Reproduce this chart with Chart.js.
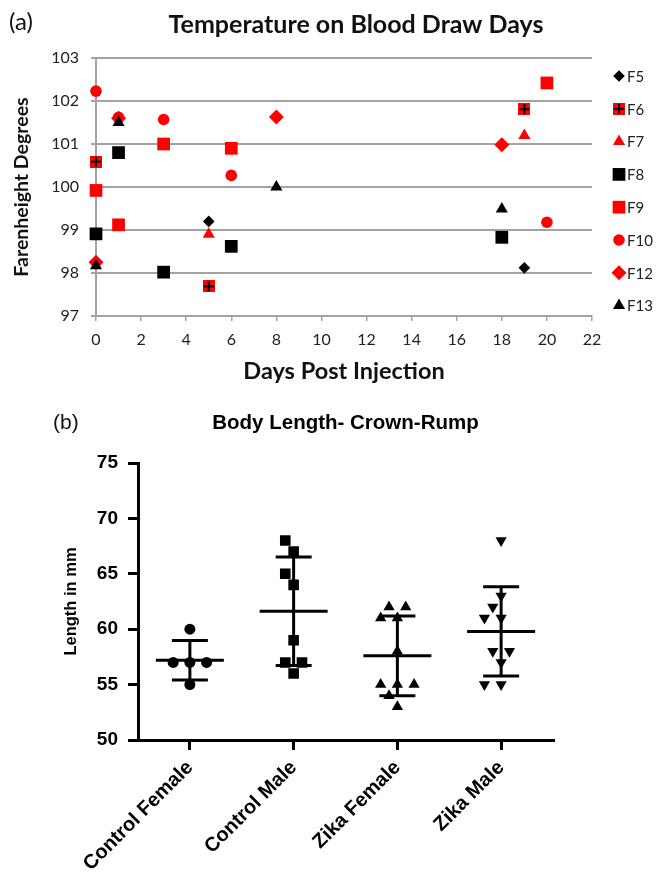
<!DOCTYPE html>
<html><head><meta charset="utf-8">
<script src="https://cdn.jsdelivr.net/npm/chart.js@4.4.1/dist/chart.umd.min.js"></script>
<style>
html,body{margin:0;padding:0;background:#fff;}
#wrapA{position:absolute;left:0;top:0;width:658px;height:395px;}
#wrapB{position:absolute;left:0;top:395px;width:658px;height:478px;}
</style></head><body>
<div id="wrapA"><canvas id="chartA" width="658" height="395"></canvas></div>
<div id="wrapB"><canvas id="chartB" width="658" height="478"></canvas></div>
<script>
// ---------- Panel (a): temperature data ----------
const seriesNames = ['F5','F6','F7','F8','F9','F10','F12','F13'];
const f5Days  = [5, 19];              const f5Temp  = [99.2, 98.12];
const f6Days  = [0, 5, 19];           const f6Temp  = [100.59, 97.69, 101.81];
const f7Days  = [5, 19];              const f7Temp  = [98.9, 101.2];
const f8Days  = [0, 1, 3, 6, 18];     const f8Temp  = [98.91, 100.8, 98.02, 98.62, 98.83];
const f9Days  = [0, 1, 3, 6, 20];     const f9Temp  = [99.92, 99.12, 101.0, 100.9, 102.42];
const f10Days = [0, 1, 3, 6, 20];     const f10Temp = [102.23, 101.62, 101.57, 100.27, 99.18];
const f12Days = [0, 1, 8, 18];        const f12Temp = [98.25, 101.6, 101.63, 100.98];
const f13Days = [0, 1, 8, 18];        const f13Temp = [98.17, 101.5, 100.0, 99.49];

// ---------- Panel (b): body length data ----------
const groups = ['Control Female','Control Male','Zika Female','Zika Male'];
const controlFemale = [60, 57, 57, 57, 55];
const controlMale   = [68, 67, 65, 64, 59, 57, 57, 56];
const zikaFemale    = [62, 62, 61, 61, 58, 55, 55, 55, 54, 53];
const zikaMale      = [68, 63, 62, 61, 61, 58, 58, 57, 55, 55];

// ---------- styles ----------
const RED = '#ff0000', BLACK = '#000000', GRID = '#a3a3a3';
function crossSquare(){
  const c = document.createElement('canvas'); c.width = 12; c.height = 12;
  const g = c.getContext('2d');
  g.fillStyle = RED; g.fillRect(0,0,12,12);
  g.fillStyle = BLACK; g.fillRect(5,1,2,10); g.fillRect(1,5,10,2);
  return c;
}
const crossImg = crossSquare();
const styleA = {
  F5:  {shape:'rectRot',  color:BLACK, r:5.8},
  F6:  {shape:crossImg,   color:RED,   r:6},
  F7:  {shape:'triangle', color:RED,   r:7},
  F8:  {shape:'rect',     color:BLACK, r:9},
  F9:  {shape:'rect',     color:RED,   r:9},
  F10: {shape:'circle',   color:RED,   r:5.8},
  F12: {shape:'rectRot',  color:RED,   r:7.5},
  F13: {shape:'triangle', color:BLACK, r:7}
};
const seriesDays = [f5Days,f6Days,f7Days,f8Days,f9Days,f10Days,f12Days,f13Days];
const seriesTemp = [f5Temp,f6Temp,f7Temp,f8Temp,f9Temp,f10Temp,f12Temp,f13Temp];

function drawMarker(ctx, st, x, y){
  ctx.save();
  ctx.fillStyle = st.color;
  const r = st.r;
  if (typeof st.shape === 'object'){
    ctx.drawImage(st.shape, x - st.shape.width/2, y - st.shape.height/2);
  } else {
    ctx.beginPath();
    if (st.shape === 'circle'){ ctx.arc(x,y,r,0,Math.PI*2); }
    else if (st.shape === 'rect'){ const s = r*Math.SQRT1_2; ctx.rect(x-s,y-s,2*s,2*s); }
    else if (st.shape === 'rectRot'){ ctx.moveTo(x,y-r); ctx.lineTo(x+r,y); ctx.lineTo(x,y+r); ctx.lineTo(x-r,y); ctx.closePath(); }
    else if (st.shape === 'triangle'){ ctx.moveTo(x,y-r); ctx.lineTo(x+r*0.866,y+r/2); ctx.lineTo(x-r*0.866,y+r/2); ctx.closePath(); }
    ctx.fill();
  }
  ctx.restore();
}

const panelA = {
  id:'panelA',
  afterDraw(chart){
    const ctx = chart.ctx;
    ctx.save();
    ctx.textBaseline = 'middle'; ctx.textAlign = 'left';
    ctx.fillStyle = '#111';
    ctx.font = '24px Lato';
    ctx.fillText('(a)', 9, 22);
    ctx.textAlign = 'center';
    ctx.font = 'bold 25px Lato';
    ctx.fillText('Temperature on Blood Draw Days', 356, 25);
    ctx.textAlign = 'left';
    ctx.font = '15px Lato';
    seriesNames.forEach((n,i)=>{
      const y = 76 + i*32.8;
      drawMarker(ctx, styleA[n], 619, y);
      ctx.fillStyle = '#222';
      ctx.fillText(n, 627, y+1);
    });
    ctx.restore();
  }
};

const dsA = seriesNames.map((n,i)=>({
  label:n,
  data: seriesDays[i].map((d,k)=>({x:d, y:seriesTemp[i][k]})),
  pointStyle: styleA[n].shape,
  pointRadius: styleA[n].r,
  pointBackgroundColor: styleA[n].color,
  pointBorderColor: styleA[n].color,
  pointBorderWidth: 0,
  showLine:false,
  clip:false,
  order: seriesNames.length - i
}));

new Chart(document.getElementById('chartA'), {
  type:'scatter',
  data:{datasets:dsA},
  options:{
    responsive:false, animation:false, devicePixelRatio:1,
    layout:{padding:{left:0,right:66,top:58,bottom:0}},
    plugins:{ legend:{display:false}, tooltip:{enabled:false}, title:{display:false} },
    scales:{
      x:{type:'linear', min:0, max:22,
        ticks:{stepSize:2, color:'#222', font:{family:'Lato', size:16}, padding:9},
        grid:{drawOnChartArea:false, drawTicks:true, tickLength:5, color:GRID, lineWidth:1.5},
        border:{color:GRID, width:2},
        title:{display:true, text:'Days Post Injection', color:'#111',
          font:{family:'Lato', size:23.5, weight:'bold', lineHeight:1.2}, padding:{top:4,bottom:9}},
        afterFit(s){ s.height = 79; }
      },
      y:{min:97, max:103,
        ticks:{stepSize:1, color:'#222', font:{family:'Lato', size:16}, padding:12},
        grid:{color:GRID, lineWidth:2, tickLength:5},
        border:{color:GRID, width:2},
        title:{display:true, text:'Farenheight Degrees', color:'#111',
          font:{family:'Lato', size:19.5, weight:'bold', lineHeight:1.2}, padding:{top:10,bottom:4}},
        afterFit(s){ s.width = 96; }
      }
    }
  },
  plugins:[panelA]
});

// ---------- Panel (b) ----------
const groupValues = [controlFemale, controlMale, zikaFemale, zikaMale];
const styleB = [
  {shape:'circle',   r:5.5, rot:0},
  {shape:'rect',     r:7.5, rot:0},
  {shape:'triangle', r:6.5, rot:0},
  {shape:'triangle', r:6.5, rot:180}
];
const mean = a => a.reduce((s,v)=>s+v,0)/a.length;
const sdev = a => { const m = mean(a); return Math.sqrt(a.reduce((s,v)=>s+(v-m)*(v-m),0)/(a.length-1)); };

const swarm = {
  id:'swarm',
  afterDatasetsUpdate(chart){
    const step = 8.35, D = 13;
    chart.data.datasets.forEach((ds, d)=>{
      const pts = chart.getDatasetMeta(d).data.slice().sort((a,b)=>b.y-a.y);
      const placed = [];
      pts.forEach(p=>{
        const base = p.x;
        for (let k=0; k<20; k++){
          const off = k===0 ? 0 : (k%2 ? -1 : 1)*Math.ceil(k/2)*step;
          const ok = placed.every(q=>Math.hypot(q.x-(base+off), q.y-p.y) >= D);
          if (ok){ p.x = base + off; break; }
        }
        placed.push({x:p.x, y:p.y});
      });
    });
  }
};

const panelB = {
  id:'panelB',
  afterDatasetsDraw(chart){
    const {ctx, scales:{x, y}} = chart;
    ctx.save();
    ctx.strokeStyle = '#000'; ctx.lineWidth = 3; ctx.lineCap = 'butt';
    const seg = (x1,y1,x2,y2)=>{ ctx.beginPath(); ctx.moveTo(x1,y1); ctx.lineTo(x2,y2); ctx.stroke(); };
    groupValues.forEach((vals,i)=>{
      const m = mean(vals), s = sdev(vals);
      const cx = x.getPixelForValue(i);
      const yt = y.getPixelForValue(m+s), yb = y.getPixelForValue(m-s), ym = y.getPixelForValue(m);
      seg(cx, yt, cx, yb);
      seg(cx-34, ym, cx+34, ym);
      seg(cx-18, yt, cx+18, yt);
      seg(cx-18, yb, cx+18, yb);
    });
    ctx.restore();
  },
  afterDraw(chart){
    const ctx = chart.ctx;
    const area = chart.chartArea;
    ctx.save();
    ctx.fillStyle = '#111'; ctx.textBaseline = 'middle'; ctx.textAlign = 'left';
    ctx.font = '21px "Liberation Sans", Arial';
    ctx.fillText('(b)', 53, 28);
    ctx.fillStyle = '#000';
    ctx.font = 'bold 17px "Liberation Sans", Arial';
    const w = ctx.measureText('Length in mm').width || 111;
    const fs = Math.max(12, Math.min(24, 17 * 108 / w));
    ctx.font = 'bold ' + fs.toFixed(1) + 'px "Liberation Sans", Arial';
    ctx.translate(71, (area.top + area.bottom)/2);
    ctx.rotate(-Math.PI/2);
    ctx.textAlign = 'center';
    ctx.fillText('Length in mm', 0, 0);
    ctx.restore();
  }
};

const dsB = groupValues.map((vals,i)=>({
  label: groups[i],
  data: vals.map(v=>({x:groups[i], y:v})),
  showLine:false,
  pointStyle: styleB[i].shape,
  pointRadius: styleB[i].r,
  pointRotation: styleB[i].rot,
  pointBackgroundColor: BLACK,
  pointBorderColor: BLACK,
  pointBorderWidth: 0
}));

new Chart(document.getElementById('chartB'), {
  type:'line',
  data:{labels:groups, datasets:dsB},
  options:{
    responsive:false, animation:false, devicePixelRatio:1,
    layout:{padding:{left:0,right:105,top:0,bottom:0}},
    plugins:{
      legend:{display:false}, tooltip:{enabled:false},
      title:{display:true, text:'Body Length- Crown-Rump', fullSize:false, color:'#000',
        font:{family:'"Liberation Sans", Arial', size:20.5, weight:'bold', lineHeight:1.2}, padding:{top:16,bottom:27.4}}
    },
    scales:{
      x:{type:'category', offset:true,
        ticks:{color:'#000', minRotation:45, maxRotation:45, autoSkip:false, padding:6,
          font:{family:'"Liberation Sans", Arial', size:20, weight:'bold'}},
        grid:{drawOnChartArea:false, drawTicks:true, tickLength:10, color:'#000', lineWidth:3, offset:false},
        border:{color:'#000', width:3},
        afterFit(s){ s.height = 133; }
      },
      y:{min:50, max:75,
        ticks:{stepSize:5, color:'#000', padding:10, font:{family:'"Liberation Sans", Arial', size:19, weight:'bold'}},
        grid:{drawOnChartArea:false, drawTicks:true, tickLength:10, color:'#000', lineWidth:3},
        border:{color:'#000', width:3},
        title:{display:false},
        afterFit(s){ s.width = 138; }
      }
    }
  },
  plugins:[swarm, panelB]
});
</script>
</body></html>
